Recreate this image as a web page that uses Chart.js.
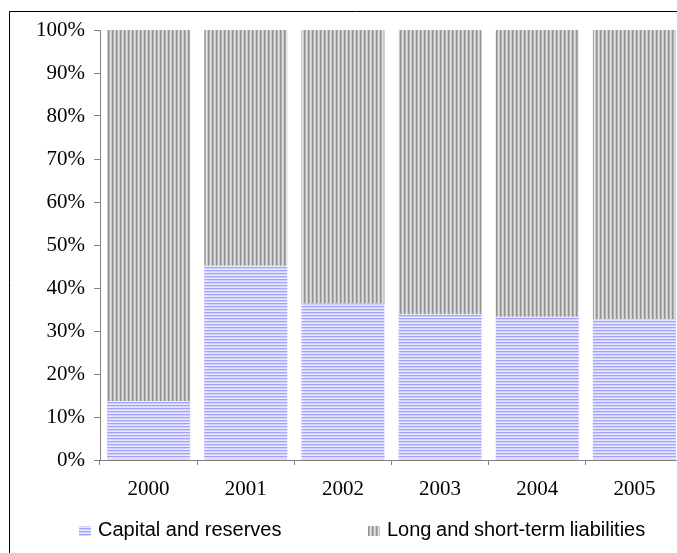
<!DOCTYPE html>
<html>
<head>
<meta charset="utf-8">
<script src="https://cdn.jsdelivr.net/npm/chart.js@4"></script>
<style>
html,body{margin:0;padding:0;background:#fff;overflow:hidden;width:677px;height:553px;}
#wrap{position:relative;width:677px;height:553px;overflow:hidden;}
canvas{position:absolute;left:0;top:0;}
</style>
</head>
<body>
<div id="wrap">
<canvas id="c" width="700" height="553"></canvas>
</div>
<script>
const categories = ['2000','2001','2002','2003','2004','2005'];
const capitalReserves = [13.7, 45.2, 36.4, 33.9, 33.3, 32.8];
const liabilities = [86.3, 54.8, 63.6, 66.1, 66.7, 67.2];
const seriesNames = ['Capital and reserves', 'Long and short-term liabilities'];
const yTicks = [0,10,20,30,40,50,60,70,80,90,100];

function makePattern(w, h, draw) {
  const c = document.createElement('canvas');
  c.width = w; c.height = h;
  const g = c.getContext('2d');
  draw(g);
  return g.createPattern(c, 'repeat');
}
const ctx = document.getElementById('c').getContext('2d');
const bluePat = makePattern(1, 3, g => {
  g.fillStyle = '#a3a3ff'; g.fillRect(0,0,1,1);
  g.fillStyle = '#d2d2ff'; g.fillRect(0,1,1,1);
  g.fillStyle = '#e8e8ff'; g.fillRect(0,2,1,1);
});
const grayPat = makePattern(4, 1, g => {
  g.fillStyle = '#969696'; g.fillRect(0,0,1,1);
  g.fillStyle = '#ababab'; g.fillRect(1,0,1,1);
  g.fillStyle = '#e6e6e6'; g.fillRect(2,0,1,1);
  g.fillStyle = '#c8c8c8'; g.fillRect(3,0,1,1);
});

const framePlugin = {
  id: 'frame',
  beforeDraw(chart) {
    const g = chart.ctx;
    g.save();
    g.strokeStyle = '#000';
    g.lineWidth = 1;
    g.beginPath();
    g.moveTo(9.5, 560);
    g.lineTo(9.5, 11.5);
    g.lineTo(chart.width + 10, 11.5);
    g.stroke();
    g.restore();
  }
};

const legendPlugin = {
  id: 'customLegend',
  afterDraw(chart) {
    const g = chart.ctx;
    g.save();
    const items = [
      {x: 79, text: seriesNames[0], pat: bluePat, tx: 98},
      {x: 368, text: seriesNames[1], pat: grayPat, tx: 387}
    ];
    items.forEach(it => {
      g.fillStyle = it.pat;
      g.fillRect(it.x, 526, 12, 10);
      g.fillStyle = '#000';
      g.font = '20px "Liberation Sans", Arial, sans-serif';
      g.textBaseline = 'middle';
      g.textAlign = 'left';
      if ('wordSpacing' in g && it.x > 300) g.wordSpacing = '-1px';
      g.fillText(it.text, it.tx, 530);
      if ('wordSpacing' in g) g.wordSpacing = '0px';
    });
    g.restore();
  }
};

new Chart(ctx, {
  type: 'bar',
  data: {
    labels: categories,
    datasets: [
      {label: seriesNames[0], data: capitalReserves, backgroundColor: bluePat, borderWidth: 0,
       categoryPercentage: 1, barPercentage: 0.855},
      {label: seriesNames[1], data: liabilities, backgroundColor: grayPat, borderWidth: 0,
       categoryPercentage: 1, barPercentage: 0.855}
    ]
  },
  options: {
    responsive: false,
    animation: false,
    layout: {padding: {left: 0, top: 30, right: 17, bottom: 0}},
    plugins: {legend: {display: false}, tooltip: {enabled: false}},
    scales: {
      x: {
        stacked: true,
        afterFit(s) { s.height = 93; },
        grid: {display: true, drawOnChartArea: false, tickLength: 5, color: '#808080', offset: true},
        border: {display: true, color: '#808080', width: 1},
        ticks: {color: '#000', padding: 12, font: {family: '"Liberation Serif", "Times New Roman", serif', size: 21}}
      },
      y: {
        stacked: true,
        min: 0, max: 100,
        afterFit(s) { s.width = 100; },
        afterBuildTicks(s) { s.ticks = yTicks.map(v => ({value: v})); },
        grid: {display: true, drawOnChartArea: false, tickLength: 6, color: '#808080'},
        border: {display: true, color: '#808080', width: 1},
        ticks: {color: '#000', padding: 9, callback: v => v + '%',
                font: {family: '"Liberation Serif", "Times New Roman", serif', size: 21}}
      }
    }
  },
  plugins: [framePlugin, legendPlugin]
});
</script>
</body>
</html>
